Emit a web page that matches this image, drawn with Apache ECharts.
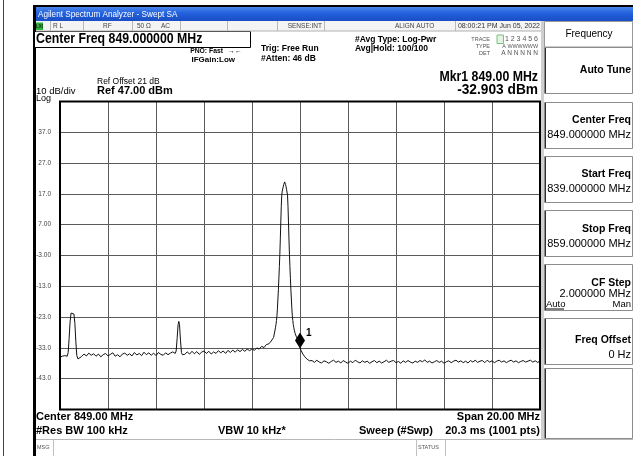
<!DOCTYPE html>
<html><head><meta charset="utf-8">
<script src="https://cdn.jsdelivr.net/npm/echarts@6/dist/echarts.min.js"></script>
<style>html,body{margin:0;padding:0;background:#fff;}#c{width:633px;height:456px;}</style>
</head><body><div id="c"></div>
<script>
// ---------- sweep settings ----------
const START_MHZ = 839, STOP_MHZ = 859, FREQ_DIV_MHZ = 2;
const BOTTOM_DBM = -53, TOP_DBM = 47, DB_PER_DIV = 10;
const levelTicks = [37, 27, 17, 7, -3, -13, -23, -33, -43];
const levelTickLabels = ['37.0', '27.0', '17.0', '7.00', '-3.00', '-13.0', '-23.0', '-33.0', '-43.0'];
const DISPLAY_LINE_DBM = -13;
const MARKER_MHZ = 849.00, MARKER_DBM = -32.903;

// ---------- trace (MHz, dBm) ----------
const floorA = [[839.00,-36.0],[839.10,-35.7],[839.20,-35.5],[839.30,-35.7]];
const spur1 = [[839.34,-34.5],[839.38,-30.0],[839.42,-24.5],[839.46,-21.7],[839.50,-21.4],[839.54,-21.5],[839.58,-22.0],[839.62,-25.0],[839.66,-31.0],[839.70,-35.5],[839.75,-36.6],[839.80,-36.3]];
const floorB_start = 839.9;   // 0.1 MHz samples
const floorB = [-35.8,-35.0,-35.6,-34.7,-35.4,-34.9,-35.7,-35.0,-35.9,-35.2,
                -34.8,-35.6,-35.1,-34.6,-35.7,-35.2,-35.9,-35.0,-34.7,-35.4,
                -34.9,-35.6,-34.5,-35.3,-34.8,-35.5,-34.4,-35.2,-34.6,-35.4,
                -34.7,-35.5,-34.5,-35.1,-35.4,-34.6,-35.2,-34.7,-34.3,-34.8];
const spur2 = [[843.84,-34.0],[843.88,-30.0],[843.92,-25.5],[843.95,-24.4],[843.98,-25.5],[844.02,-30.5],[844.06,-34.5],[844.10,-35.2]];
const floorC_start = 844.2;   // 0.1 MHz samples
const floorC = [-35.1,-34.3,-35.0,-34.1,-34.9,-34.2,-35.1,-34.4,-34.0,-34.8,
                -34.1,-35.0,-34.3,-34.8,-33.9,-34.6,-34.0,-34.8,-33.8,-34.5,
                -33.7,-34.4,-33.6,-34.2,-33.5,-34.1,-33.4];
const skirtL_start = 846.9;   // 0.1 MHz samples
const skirtL = [-33.9,-33.3,-33.8,-33.0,-33.4,-32.5,-32.9,-31.9,-31.7,-30.8,-29.6];
const carrier_start = 847.96; // 0.02 MHz samples
const carrier = [-27.2,-26.3,-25.4,-24.1,-22.6,-20.1,-17.1,-14.1,-10.4,-6.6,
                 -2.6,2.4,7.9,12.9,16.6,17.9,18.5,19.3,20.0,20.6,
                 20.9,
                 20.6,20.0,19.3,18.5,17.9,16.6,12.9,7.9,2.4,-2.6,
                 -6.6,-10.4,-14.1,-17.1,-20.1,-22.6,-24.1,-25.4,-26.3,-27.2];
const skirtR = [[848.80,-28.3],[848.84,-29.2],[848.88,-29.9],[848.92,-30.6],[848.96,-31.8],[849.00,-32.903],[849.04,-33.8],[849.08,-34.4],[849.12,-35.0],[849.16,-35.4],[849.20,-35.9],[849.25,-36.3],[849.30,-36.7],[849.35,-37.0],[849.40,-37.2]];
const floorD_start = 849.5;   // 0.1 MHz samples
const floorD = [-37.1,-37.7,-37.0,-37.6,-37.9,-37.2,-37.5,-38.0,-37.4,-37.0,
                -37.7,-37.3,-37.9,-37.1,-37.6,-38.0,-37.3,-37.8,-37.0,-37.5,
                -37.9,-37.2,-37.7,-37.3,-38.0,-37.5,-37.1,-37.8,-37.3,-37.9,
                -37.5,-37.0,-37.7,-37.3,-37.1,-37.8,-37.4,-38.0,-37.2,-37.7,
                -37.1,-37.6,-37.9,-37.3,-37.7,-37.1,-37.5,-36.9,-37.7,-37.3,
                -37.9,-37.5,-37.1,-37.7,-37.3,-38.0,-37.5,-37.2,-37.8,-37.3,
                -37.0,-37.6,-37.2,-37.8,-37.3,-37.9,-37.1,-37.6,-37.0,-37.7,
                -37.3,-37.1,-37.8,-37.0,-37.6,-37.2,-37.8,-37.3,-37.0,-37.6,
                -37.2,-37.8,-37.3,-37.0,-37.6,-37.2,-37.8,-37.4,-37.1,-37.6,
                -37.3,-37.0,-37.6,-37.2,-37.7,-37.3];

function onGrid(start, step, levels) {
  return levels.map((v, i) => [Math.round((start + step * i) * 1000) / 1000, v]);
}
const trace = [].concat(
  floorA, spur1, onGrid(floorB_start, 0.1, floorB), spur2,
  onGrid(floorC_start, 0.1, floorC), onGrid(skirtL_start, 0.1, skirtL),
  onGrid(carrier_start, 0.02, carrier), skirtR, onGrid(floorD_start, 0.1, floorD)
);

// ---------- screen furniture ----------
const FONT = '"Liberation Sans", Arial, sans-serif';
function txt(s, x, y, size, o) {
  o = o || {};
  const al = o.align || 'left';
  return {type: 'text', x: x, y: y, scaleX: o.sx || 1, z: o.z || 5, silent: true,
    style: {text: s, font: (o.bold ? 'bold ' : '') + size + 'px ' + FONT, fill: o.color || '#000',
      align: al, textAlign: al, verticalAlign: 'middle', textVerticalAlign: 'middle'}};
}
function box(x, y, w, h, o) {
  o = o || {};
  return {type: 'rect', z: o.z || 1, silent: true, shape: {x: x, y: y, width: w, height: h},
    style: {fill: o.fill || 'none', stroke: o.stroke || null, lineWidth: o.lw || 1}};
}
function vline(x, y1, y2, color, lw) {
  return {type: 'line', z: 2, silent: true, shape: {x1: x, y1: y1, x2: x, y2: y2}, style: {stroke: color, lineWidth: lw || 1}};
}
function hline(x1, x2, y, color, lw) {
  return {type: 'line', z: 2, silent: true, shape: {x1: x1, y1: y, x2: x2, y2: y}, style: {stroke: color, lineWidth: lw || 1}};
}

const PLOT = {left: 60, top: 101.5, width: 480, height: 308};

const g = [];
// window frame
g.push(box(3, 0, 1, 456, {fill: '#444'}));
g.push(box(33, 5, 600, 2, {fill: '#000'}));
g.push(box(33, 5, 3, 451, {fill: '#000'}));
g.push(box(36, 7, 597, 14, {fill: {type: 'linear', x: 0, y: 0, x2: 0, y2: 1,
  colorStops: [{offset: 0, color: '#4a86ec'}, {offset: 0.45, color: '#2260dc'}, {offset: 1, color: '#1a4ec4'}]}}));
g.push(txt('Agilent Spectrum Analyzer - Swept SA', 38, 14.5, 9.5, {color: '#fff', sx: 0.86}));
// status row
g.push(box(36, 21, 505, 10, {fill: '#f4f4f4'}));
g.push(hline(36, 541, 31, '#b0b0b0'));
[50, 83, 132, 180, 227, 277, 324, 455].forEach(x => g.push(vline(x + 0.5, 21, 31, '#b8b8b8')));
g.push(box(36, 22.5, 7, 7.5, {fill: '#2fae3c'}));
g.push(txt('LXI', 39.5, 26.5, 4.5, {bold: true, align: 'center', color: '#103010'}));
g.push(txt('R L', 53, 26.5, 6.5, {color: '#444'}));
g.push(txt('RF', 103, 26.5, 6.5, {color: '#444'}));
g.push(txt('50 Ω', 137, 26.5, 6.5, {color: '#444'}));
g.push(txt('AC', 161, 26.5, 6.5, {color: '#444'}));
g.push(txt('SENSE:INT', 322, 26.5, 6.5, {color: '#444', align: 'right'}));
g.push(txt('ALIGN AUTO', 395, 26.5, 6.5, {color: '#444'}));
g.push(txt('08:00:21 PM Jun 05, 2022', 540, 26.5, 7, {color: '#333', align: 'right'}));
// header
g.push(box(34.5, 31.5, 216, 16, {stroke: '#000', fill: '#fff'}));
g.push(txt('Center Freq 849.000000 MHz', 36, 39.5, 14, {bold: true, sx: 0.88}));
g.push(txt('PNO: Fast', 223, 51, 8, {bold: true, align: 'right', sx: 0.85}));
g.push(txt('IFGain:Low', 235, 60, 8, {bold: true, align: 'right'}));
g.push(txt('→←', 228, 51, 7, {color: '#000'}));
g.push(txt('Trig: Free Run', 261, 48.5, 8.5, {bold: true}));
g.push(txt('#Atten: 46 dB', 261, 59, 8.5, {bold: true}));
g.push(txt('#Avg Type: Log-Pwr', 355, 39.3, 8.5, {bold: true}));
g.push(txt('Avg|Hold: 100/100', 355, 48.3, 8.5, {bold: true}));
g.push(box(497, 35, 6.5, 8.5, {fill: '#e4f4e4', stroke: '#7cc07c'}));
g.push(txt('TRACE', 490, 39.3, 5.5, {align: 'right', color: '#555'}));
g.push(txt('1 2 3 4 5 6', 538, 39.3, 7, {align: 'right', color: '#555'}));
g.push(txt('TYPE', 490, 46.5, 5.5, {align: 'right', color: '#555'}));
g.push(txt('A WWWWWW', 538, 46.5, 6, {align: 'right', color: '#555', sx: 0.9}));
g.push(txt('DET', 490, 53.3, 5.5, {align: 'right', color: '#555'}));
g.push(txt('A N N N N N', 538, 53.3, 6.5, {align: 'right', color: '#555'}));
g.push(txt('Mkr1 849.00 MHz', 538, 76.7, 14, {bold: true, align: 'right', sx: 0.88}));
g.push(txt('-32.903 dBm', 538, 90.5, 14, {bold: true, align: 'right', sx: 0.98}));
g.push(txt('Ref Offset 21 dB', 97, 81.7, 8.5));
g.push(txt('Ref 47.00 dBm', 97, 91, 11, {bold: true}));
g.push(txt('10 dB/div', 36, 91.5, 9.5));
g.push(txt('Log', 36, 98.3, 9));
// footer
g.push(txt('Center 849.00 MHz', 36, 416.7, 11, {bold: true}));
g.push(txt('#Res BW 100 kHz', 36, 431, 11, {bold: true}));
g.push(txt('VBW 10 kHz*', 218, 431, 11, {bold: true}));
g.push(txt('Sweep (#Swp)', 359, 431, 11, {bold: true}));
g.push(txt('20.3 ms (1001 pts)', 540, 431, 11, {bold: true, align: 'right'}));
g.push(txt('Span 20.00 MHz', 540, 416.7, 11, {bold: true, align: 'right'}));
g.push(hline(36, 633, 439.5, '#b8b8b8'));
g.push(vline(53.5, 440, 456, '#c0c0c0'));
g.push(vline(416.5, 440, 456, '#c0c0c0'));
g.push(vline(445.5, 440, 456, '#c0c0c0'));
g.push(txt('MSG', 37, 447, 5.5, {color: '#555'}));
g.push(txt('STATUS', 418, 447, 5.5, {color: '#555'}));
// right soft-key panel
g.push(box(541, 21, 3, 418, {fill: '#cfcfcf'}));
g.push(box(544.5, 21.5, 88, 25.5, {stroke: '#9a9a9a', fill: '#fff'}));
g.push(txt('Frequency', 589, 34.5, 10, {align: 'center'}));
const keys = [
  {top: 47, h: 46, title: 'Auto Tune', ty: 70},
  {top: 102, h: 46, title: 'Center Freq', ty: 120, val: '849.000000 MHz', vy: 135},
  {top: 156, h: 46, title: 'Start Freq', ty: 174, val: '839.000000 MHz', vy: 189},
  {top: 210, h: 46, title: 'Stop Freq', ty: 229, val: '859.000000 MHz', vy: 244},
  {top: 264, h: 46, title: 'CF Step', ty: 283, val: '2.000000 MHz', vy: 294},
  {top: 318, h: 46, title: 'Freq Offset', ty: 340, val: '0 Hz', vy: 355},
  {top: 368, h: 70}
];
keys.forEach(k => {
  g.push(box(544.5, k.top + 0.5, 88, k.h, {stroke: '#8c8c8c', fill: '#fff'}));
  g.push(vline(545.5, k.top + 1, k.top + k.h, '#303030'));
  if (k.title) g.push(txt(k.title, 631, k.ty, 10.5, {bold: true, align: 'right'}));
  if (k.val) g.push(txt(k.val, 631, k.vy, 11, {align: 'right'}));
});
g.push(txt('Auto', 546, 304, 9.5));
g.push(hline(546, 564, 309, '#000'));
g.push(txt('Man', 631, 304, 9.5, {align: 'right'}));
// plot frame on top
g.push({type: 'rect', z: 100, silent: true, shape: {x: PLOT.left, y: PLOT.top, width: PLOT.width, height: PLOT.height},
  style: {fill: 'none', stroke: '#000', lineWidth: 2}});

const labelOf = {};
levelTicks.forEach((v, i) => { labelOf[v] = levelTickLabels[i]; });

const chart = echarts.init(document.getElementById('c'), null, {renderer: 'canvas'});
chart.setOption({
  animation: false,
  backgroundColor: '#fff',
  grid: {left: PLOT.left, top: PLOT.top, width: PLOT.width, height: PLOT.height, containLabel: false},
  xAxis: {type: 'value', min: START_MHZ, max: STOP_MHZ, interval: FREQ_DIV_MHZ,
    axisLine: {show: false}, axisTick: {show: false}, axisLabel: {show: false},
    splitLine: {show: true, lineStyle: {color: '#5a5a5a', width: 1}}},
  yAxis: {type: 'value', min: BOTTOM_DBM, max: TOP_DBM, interval: DB_PER_DIV,
    axisLine: {show: false}, axisTick: {show: false},
    axisLabel: {show: true, margin: 9, fontSize: 6.5, color: '#444', fontFamily: FONT,
      formatter: v => (labelOf[Math.round(v)] !== undefined ? labelOf[Math.round(v)] : '')},
    splitLine: {show: true, lineStyle: {color: '#5a5a5a', width: 1}}},
  graphic: {elements: g},
  series: [{
    type: 'line', data: trace, showSymbol: false, smooth: false, z: 5,
    lineStyle: {color: '#111', width: 1}, emphasis: {disabled: true},
    markPoint: {silent: true, symbol: 'diamond', symbolSize: [10, 16], symbolOffset: [0, -7],
      itemStyle: {color: '#000'},
      label: {show: true, formatter: '1', position: 'right', distance: 1, offset: [0, -7], color: '#000', fontSize: 10, fontWeight: 'bold', fontFamily: FONT},
      data: [{coord: [MARKER_MHZ, MARKER_DBM]}]},
    markLine: {silent: true, symbol: 'none', lineStyle: {opacity: 0},
      label: {show: true, position: 'insideEndTop', formatter: '-13.00 dBm', fontSize: 6, color: '#555', fontFamily: FONT, distance: 1},
      data: [{yAxis: DISPLAY_LINE_DBM}]}
  }]
});
</script></body></html>
